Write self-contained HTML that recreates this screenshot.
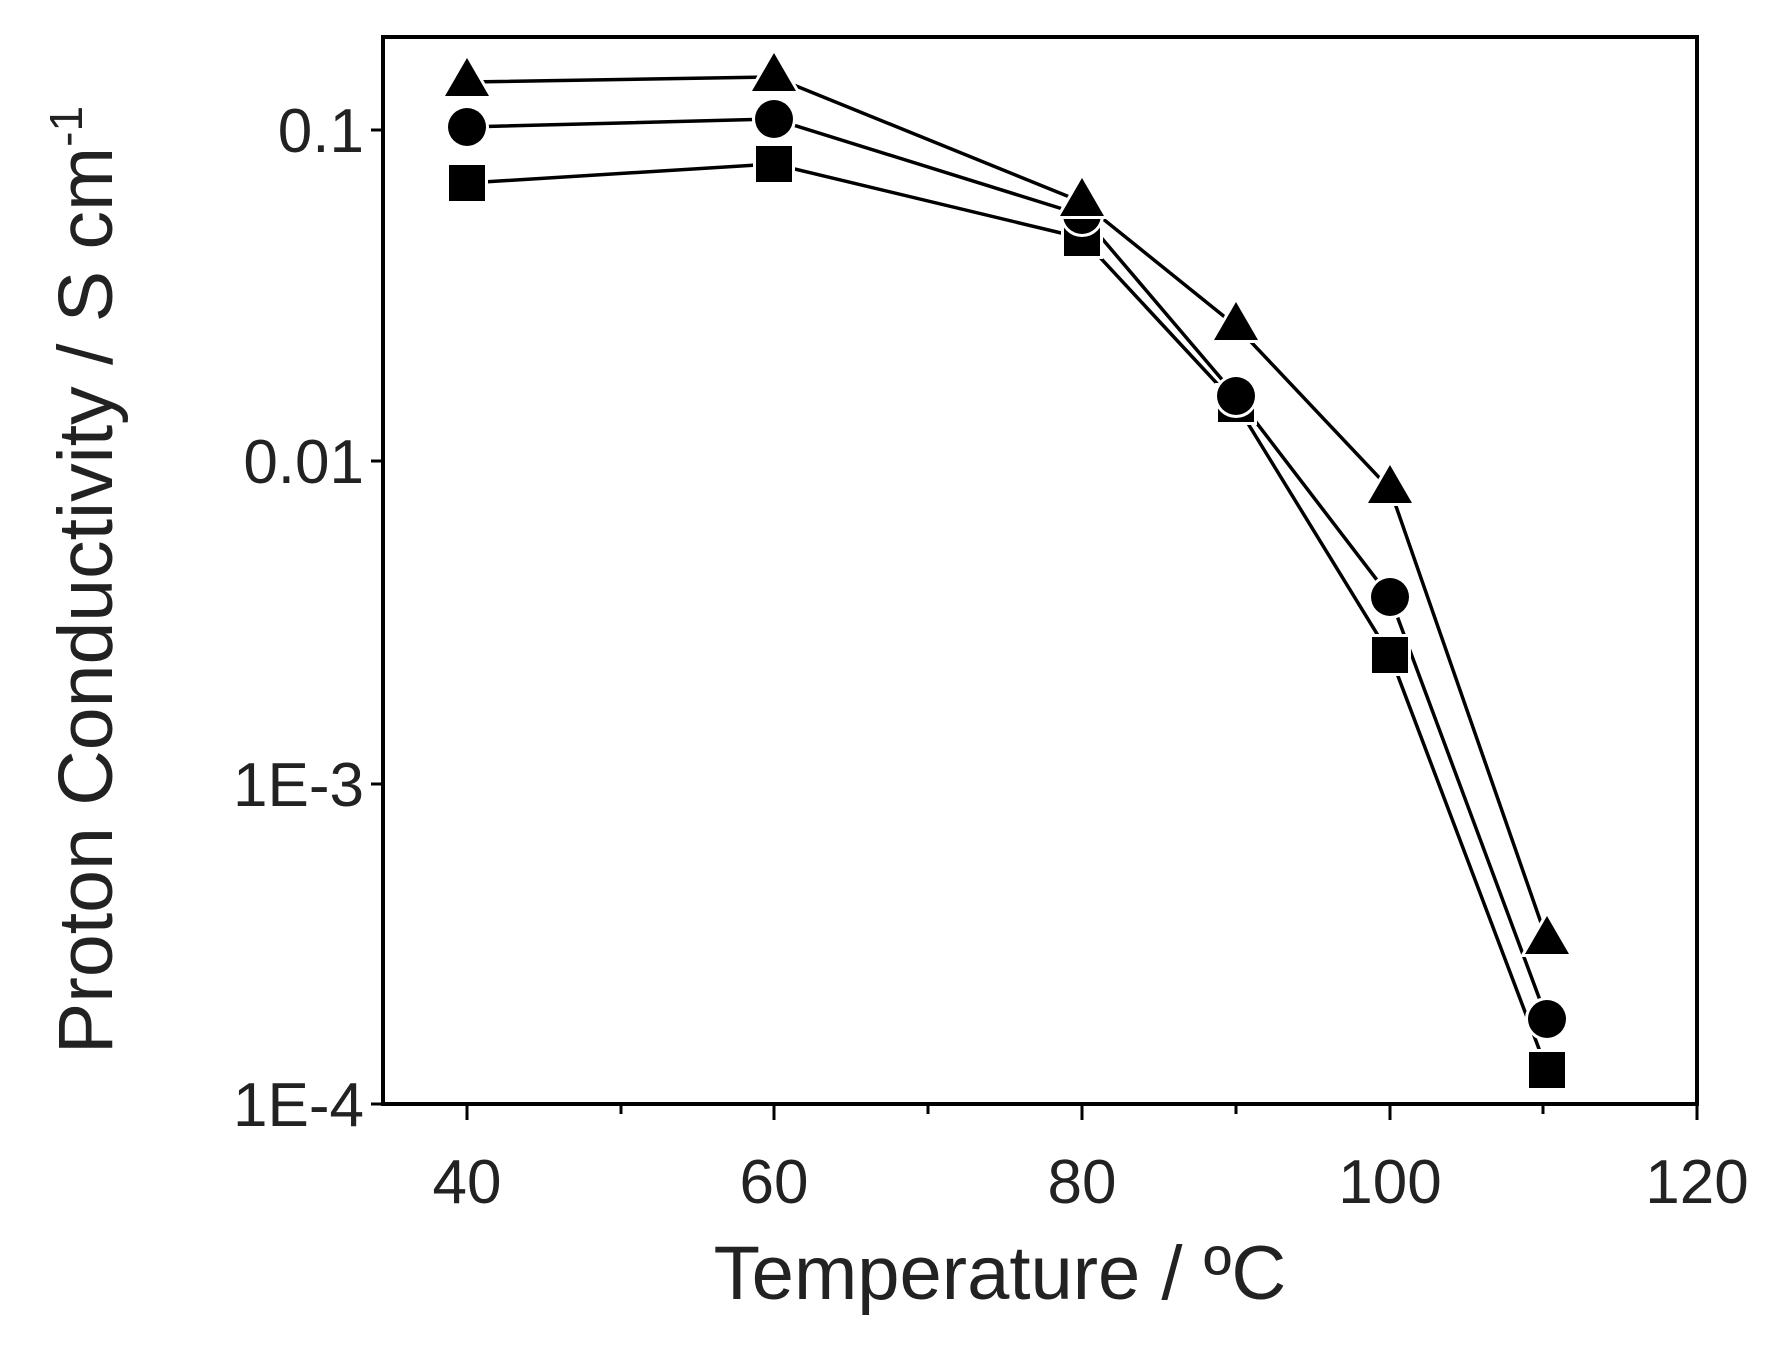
<!DOCTYPE html><html><head><style>body{margin:0;background:#fff}</style></head><body>
<svg width="1767" height="1346" xmlns="http://www.w3.org/2000/svg" font-family="Liberation Sans, sans-serif">
<rect x="383" y="37" width="1314" height="1067" fill="none" stroke="#000" stroke-width="4"/>
<g stroke="#000" stroke-width="3">
<line x1="467" y1="1104" x2="467" y2="1120"/><line x1="621" y1="1104" x2="621" y2="1114"/>
<line x1="774" y1="1104" x2="774" y2="1120"/><line x1="928" y1="1104" x2="928" y2="1114"/>
<line x1="1082" y1="1104" x2="1082" y2="1120"/><line x1="1236" y1="1104" x2="1236" y2="1114"/>
<line x1="1390" y1="1104" x2="1390" y2="1120"/><line x1="1543" y1="1104" x2="1543" y2="1114"/>
<line x1="1697" y1="1104" x2="1697" y2="1120"/>
<line x1="383" y1="130" x2="371" y2="130"/><line x1="383" y1="461" x2="371" y2="461"/>
<line x1="383" y1="784" x2="371" y2="784"/><line x1="383" y1="1104" x2="371" y2="1104"/>
</g>
<g stroke="#000" stroke-width="2" id="minor"></g>
<g font-size="62" fill="#222">
<text x="364" y="152" text-anchor="end">0.1</text>
<text x="364" y="483" text-anchor="end">0.01</text>
<text x="364" y="806" text-anchor="end">1E-3</text>
<text x="364" y="1126" text-anchor="end">1E-4</text>
<text x="467" y="1203" text-anchor="middle">40</text>
<text x="774" y="1203" text-anchor="middle">60</text>
<text x="1082" y="1203" text-anchor="middle">80</text>
<text x="1390" y="1203" text-anchor="middle">100</text>
<text x="1697" y="1203" text-anchor="middle">120</text>
</g>
<text x="1000" y="1299" font-size="76" text-anchor="middle" fill="#222">Temperature / ºC</text>
<text transform="translate(112,580) rotate(-90)" font-size="77" text-anchor="middle" fill="#222">Proton Conductivity / S cm<tspan font-size="46" dy="-30">-1</tspan></text>
<g fill="none" stroke="#000" stroke-width="3.5">
<polyline points="467,82 774,77 1082,202 1236,326 1390,489 1547,940"/>
<polyline points="467,127 774,119 1082,215 1236,396 1390,597 1547,1019"/>
<polyline points="467,183 774,164 1082,238 1236,404 1390,655 1547,1070"/>
</g>
<g fill="#000" stroke="#fff" stroke-width="6" paint-order="stroke">
<rect x="449" y="165" width="36" height="36"/><rect x="756" y="146" width="36" height="36"/><rect x="1064" y="220" width="36" height="36"/><rect x="1218" y="386" width="36" height="36"/><rect x="1372" y="637" width="36" height="36"/><rect x="1529" y="1052" width="36" height="36"/>
<circle cx="467" cy="127" r="19"/><circle cx="774" cy="119" r="19"/><circle cx="1082" cy="215" r="19"/><circle cx="1236" cy="396" r="19"/><circle cx="1390" cy="597" r="19"/><circle cx="1547" cy="1019" r="19"/>
<polygon points="467,58 489,96 445,96"/><polygon points="774,53 796,91 752,91"/><polygon points="1082,178 1104,216 1060,216"/><polygon points="1236,302 1258,340 1214,340"/><polygon points="1390,465 1412,503 1368,503"/><polygon points="1547,916 1569,954 1525,954"/>
</g>
<script>
var g=document.getElementById('minor'),s='';
[[130,37,331],[461,130,331],[784,461,323],[1104,784,320]].forEach(function(p){var b=p[0],h=p[2];for(var k=2;k<10;k++){var y=b-Math.log10(k)*h;if(y>=37)s+='<line x1="383" y1="'+y+'" x2="393" y2="'+y+'"/>';}});
g.innerHTML=s;
</script>
</svg>
</body></html>
